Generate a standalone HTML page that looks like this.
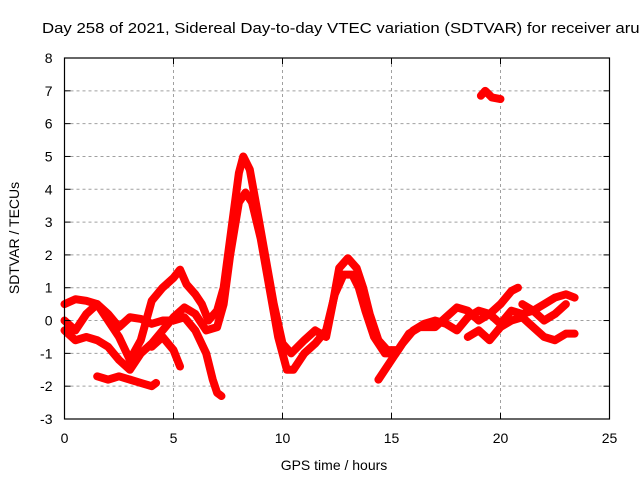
<!DOCTYPE html>
<html><head><meta charset="utf-8"><style>
body{margin:0;background:#fff}
svg{display:block;font-family:"Liberation Sans",sans-serif}
</style></head><body>
<svg width="640" height="480" xmlns="http://www.w3.org/2000/svg">
<rect width="640" height="480" fill="#fff"/>
<g id="grid"></g>
<g id="series"></g>
<g id="axes"></g>
<text x="42" y="33" font-size="15" textLength="606" lengthAdjust="spacingAndGlyphs" fill="#000">Day 258 of 2021, Sidereal Day-to-day VTEC variation (SDTVAR) for receiver aruc</text>
<text x="334" y="470" font-size="14" text-anchor="middle">GPS time / hours</text>
<text transform="translate(19,238) rotate(-90)" font-size="14" text-anchor="middle">SDTVAR / TECUs</text>
</svg>
<script>
const xTicks=[0,5,10,15,20,25];
const yTicks=[-3,-2,-1,0,1,2,3,4,5,6,7,8];
const t1=[[0,0.5],[0.5,0.65],[1,0.6],[1.5,0.5],[2,0],[2.5,-0.5],[3,-1.2],[3.5,-0.6],[4,0.6],[4.5,1.0],[5,1.3],[5.3,1.55],[5.6,1.1],[6,0.8],[6.3,0.5],[6.6,0],[7,0.3],[7.3,1],[7.6,2.5],[8,4.5],[8.2,5.0],[8.5,4.6],[8.8,3.5],[9.2,2],[9.6,0.5],[10,-0.7],[10.4,-1.0],[11,-0.6],[11.5,-0.3],[12,-0.5],[12.3,0.5],[12.6,1.6],[13,1.9],[13.4,1.6],[13.7,1.0],[14,0.2],[14.4,-0.6],[14.8,-0.9],[15.3,-0.9],[15.8,-0.4],[16.3,-0.2],[17,-0.2],[17.5,0.1],[18,0.4],[18.5,0.3],[19,0],[19.5,0.2],[20,0.5],[20.5,0.9],[20.8,1.0]];
const t2=[[0,0],[0.5,-0.3],[1,0.2],[1.5,0.5],[2,0.2],[2.5,-0.2],[3,0.1],[3.5,0.05],[4,-0.1],[4.5,0],[5,0],[5.5,0.1],[6,-0.3],[6.5,-1.0],[6.8,-1.8],[7,-2.2],[7.2,-2.3]];
const t3=[[0,-0.3],[0.5,-0.6],[1,-0.5],[1.5,-0.6],[2,-0.8],[2.5,-1.2],[3,-1.5],[3.5,-1.0],[4,-0.7],[4.5,-0.3],[5,0.1],[5.5,0.4],[6,0.2],[6.5,-0.3],[7,-0.2],[7.3,0.5],[7.6,2],[8,3.6],[8.3,3.9],[8.6,3.6],[9,2.5],[9.4,1],[9.8,-0.5],[10.2,-1.5],[10.5,-1.5],[11,-1.0],[11.5,-0.7],[12,-0.3],[12.4,0.8],[12.8,1.4],[13.2,1.4],[13.5,1.0],[13.8,0.3],[14.2,-0.5],[14.7,-1.0],[15.2,-1.0]];
const t4=[[1.5,-1.7],[2,-1.8],[2.5,-1.7],[3,-1.8],[3.5,-1.9],[4,-2.0],[4.2,-1.9]];
const t5=[[4,-0.8],[4.5,-0.5],[5,-0.9],[5.3,-1.4]];
const t6=[[14.4,-1.8],[15,-1.2],[15.5,-0.7],[16,-0.3],[16.5,-0.1],[17,0],[17.5,-0.1],[18,-0.3],[18.5,0.1],[19,0.3],[19.5,0.2],[20,-0.1],[20.5,0.3],[21,0.2],[21.5,0.3],[22,0.5],[22.5,0.7],[23,0.8],[23.4,0.7]];
const t7=[[18.5,-0.5],[19,-0.3],[19.5,-0.6],[20,-0.2],[20.5,0],[21,0.1],[21.5,-0.2],[22,-0.5],[22.5,-0.6],[23,-0.4],[23.4,-0.4]];
const t8=[[19.1,6.85],[19.3,7.0],[19.6,6.8],[20,6.75]];
const t9=[[21,0.5],[21.5,0.3],[22,0],[22.5,0.2],[23,0.5]];
const traces=[t1,t2,t3,t4,t5,t6,t7,t8,t9];
const X0=64.5,X1=609.5,Y0=419,Y1=58,XMIN=0,XMAX=25,YMIN=-3,YMAX=8;
function xs(v){return X0+(v-XMIN)/(XMAX-XMIN)*(X1-X0);}
function ys(v){return Y0-(v-YMIN)/(YMAX-YMIN)*(Y0-Y1);}
const NS="http://www.w3.org/2000/svg";
function mk(tag,attrs,parent){const e=document.createElementNS(NS,tag);for(const k in attrs)e.setAttribute(k,attrs[k]);parent.appendChild(e);return e;}
const grid=document.getElementById('grid'),axes=document.getElementById('axes'),ser=document.getElementById('series');
xTicks.forEach(t=>{
 if(t>XMIN&&t<XMAX){const l=mk('line',{x1:xs(t),x2:xs(t),y1:Y1,y2:Y0,stroke:'#a0a0a0','stroke-dasharray':'3,3'},grid);
 
 }
 mk('line',{x1:xs(t),x2:xs(t),y1:Y0,y2:Y0-6,stroke:'#000'},axes);
 mk('line',{x1:xs(t),x2:xs(t),y1:Y1,y2:Y1+6,stroke:'#000'},axes);
 const tx=mk('text',{x:xs(t),y:Y0+24,'font-size':14,'text-anchor':'middle'},axes);tx.textContent=t;
 
 
});
yTicks.forEach(t=>{
 if(t>YMIN&&t<YMAX){const l=mk('line',{x1:X0,x2:X1,y1:ys(t),y2:ys(t),stroke:'#a0a0a0','stroke-dasharray':'3,3'},grid);
 
 }
 mk('line',{x1:X0,x2:X0+6,y1:ys(t),y2:ys(t),stroke:'#000'},axes);
 mk('line',{x1:X1,x2:X1-6,y1:ys(t),y2:ys(t),stroke:'#000'},axes);
 const tx=mk('text',{x:X0-12,y:ys(t)+5,'font-size':14,'text-anchor':'end'},axes);tx.textContent=t;
 
 
});
const fr=mk('rect',{x:X0,y:Y1,width:X1-X0,height:Y0-Y1,fill:'none',stroke:'#000','stroke-width':1.2},axes);


traces.forEach(tr=>{
 const p=mk('polyline',{points:tr.map(d=>xs(d[0])+','+ys(d[1])).join(' '),fill:'none',stroke:'#ff0000','stroke-width':8,'stroke-linejoin':'round','stroke-linecap':'round'},ser);
 
 
});
</script>
</body></html>
